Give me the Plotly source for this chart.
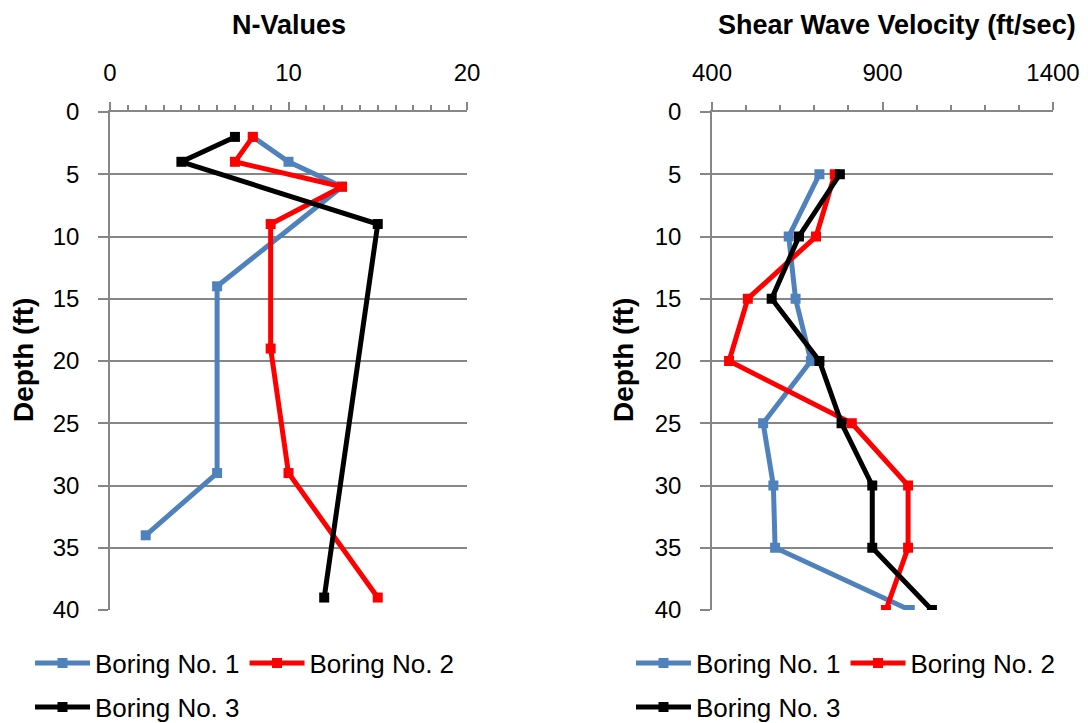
import plotly.graph_objects as go

W, H = 1088, 723

# ---------------- data ----------------
series_names = ["Boring No. 1", "Boring No. 2", "Boring No. 3"]
series_colors = ["#4F81BD", "#FF0000", "#000000"]

# N-Values chart
n_depth_b1 = [2, 4, 6, 14, 29, 34]
n_vals_b1 = [8, 10, 13, 6, 6, 2]
n_depth_b2 = [2, 4, 6, 9, 19, 29, 39]
n_vals_b2 = [8, 7, 13, 9, 9, 10, 15]
n_depth_b3 = [2, 4, 9, 39]
n_vals_b3 = [7, 4, 15, 12]

# Shear wave velocity chart
vs_depth = [5, 10, 15, 20, 25, 30, 35, 40]
vs_b1 = [715, 625, 645, 690, 550, 580, 585, 980]
vs_b2 = [760, 705, 505, 450, 810, 975, 975, 910]
vs_b3 = [775, 655, 575, 715, 780, 870, 870, 1045]

n_ticks = [0, 10, 20]
vs_ticks = [400, 900, 1400]
depth_ticks = [0, 5, 10, 15, 20, 25, 30, 35, 40]


def px(x):
    return x / W


def py(y):
    return 1 - y / H


FONT = "Liberation Sans, Arial, sans-serif"
GRAY = "#868686"

fig = go.Figure()

n_sets = [(n_vals_b1, n_depth_b1), (n_vals_b2, n_depth_b2), (n_vals_b3, n_depth_b3)]
vs_sets = [(vs_b1, vs_depth), (vs_b2, vs_depth), (vs_b3, vs_depth)]

for i, (xv, yv) in enumerate(n_sets):
    fig.add_trace(go.Scatter(
        x=xv, y=yv, mode="lines+markers", name=series_names[i],
        line=dict(color=series_colors[i], width=5),
        marker=dict(symbol="square", size=10, color=series_colors[i]),
        xaxis="x", yaxis="y",
        legend="legend" if i < 2 else "legend2",
    ))

for i, (xv, yv) in enumerate(vs_sets):
    fig.add_trace(go.Scatter(
        x=xv, y=yv, mode="lines+markers", name=series_names[i],
        line=dict(color=series_colors[i], width=5),
        marker=dict(symbol="square", size=10, color=series_colors[i]),
        xaxis="x2", yaxis="y2",
        legend="legend3" if i < 2 else "legend4",
    ))

y_top, y_bot = 112, 610
ydom = [py(y_bot), py(y_top)]

common_x = dict(
    side="top", showgrid=False, showline=True, linecolor=GRAY, linewidth=1.5,
    ticks="outside", ticklen=8, tickwidth=1.5, tickcolor=GRAY,
    tickfont=dict(family=FONT, size=24, color="#000000"),
    ticklabelstandoff=12, zeroline=False, fixedrange=True, automargin=False,
)
common_y = dict(
    autorange=False, range=[40, 0], tickmode="array", tickvals=depth_ticks,
    showgrid=True, gridcolor=GRAY, gridwidth=1.5,
    showline=True, linecolor=GRAY, linewidth=1.5,
    ticks="outside", ticklen=10, tickwidth=1.5, tickcolor=GRAY,
    tickfont=dict(family=FONT, size=24, color="#000000"),
    ticklabelstandoff=14, zeroline=False, fixedrange=True, automargin=False,
)

fig.update_layout(
    width=W, height=H,
    margin=dict(l=0, r=0, t=0, b=0, autoexpand=False),
    paper_bgcolor="white", plot_bgcolor="white",
    showlegend=True,
    xaxis=dict(domain=[px(110), px(467)], range=[0, 20], tickmode="array",
               tickvals=n_ticks, anchor="y",
               minor=dict(dtick=1, ticks="outside", ticklen=5, tickwidth=1.5,
                          tickcolor=GRAY, showgrid=False),
               **common_x),
    yaxis=dict(domain=ydom, anchor="x", **common_y),
    xaxis2=dict(domain=[px(712), px(1053)], range=[400, 1400], tickmode="array",
                tickvals=vs_ticks, anchor="y2",
                minor=dict(dtick=100, tick0=400, ticks="outside", ticklen=5,
                           tickwidth=1.5, tickcolor=GRAY, showgrid=False),
                **common_x),
    yaxis2=dict(domain=ydom, anchor="x2", **common_y),
)

leg_common = dict(orientation="h", xanchor="left", yanchor="middle",
                  font=dict(family=FONT, size=26, color="#000000"),
                  bgcolor="rgba(0,0,0,0)", itemwidth=55, tracegroupgap=0,
                  itemclick=False, itemdoubleclick=False)
fig.update_layout(
    legend=dict(x=px(30), y=py(663), **leg_common),
    legend2=dict(x=px(30), y=py(707), **leg_common),
    legend3=dict(x=px(631), y=py(663), **leg_common),
    legend4=dict(x=px(631), y=py(707), **leg_common),
)

annotations = [
    dict(text="<b>N-Values</b>", x=px(289), y=py(25), size=27),
    dict(text="<b>Shear Wave Velocity (ft/sec)</b>", x=px(897), y=py(25), size=27),
    dict(text="<b>Depth (ft)</b>", x=px(23), y=py(360), textangle=-90, size=28),
    dict(text="<b>Depth (ft)</b>", x=px(623), y=py(360), textangle=-90, size=28),
]
for a in annotations:
    size = a.pop("size")
    fig.add_annotation(xref="paper", yref="paper", showarrow=False,
                       xanchor="center", yanchor="middle",
                       font=dict(family=FONT, size=size, color="#000000"), **a)

fig.write_html("out.html")
